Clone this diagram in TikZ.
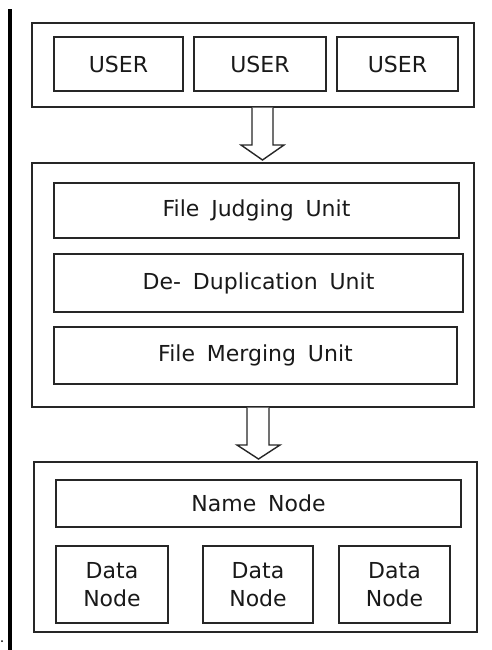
\documentclass[tikz,border=0pt]{standalone}
\usepackage{fontspec}
\setmainfont{DejaVu Sans}[WordSpace=1.7]
\begin{document}
\begin{tikzpicture}[x=1pt,y=-1pt,
  box/.style={draw=black!85, line width=1.4pt, fill=white, inner sep=0pt, text=black!90,
    font=\fontsize{22}{28}\selectfont, align=center},
  outer/.style={draw=black!85, line width=1.4pt, inner sep=0pt},
  blockarrow/.style={draw=black!85, line width=1.4pt, fill=white, line join=miter}]
\useasboundingbox (0,0) rectangle (492,650);
\fill[black] (8,9) rectangle (12,650);
\fill[black] (2,641) circle (1);
% top group
\node[outer, minimum width=442, minimum height=84] (top) at (253,65) {};
\node[box, minimum width=129, minimum height=54] (u1) at (118.5,64) {USER};
\node[box, minimum width=132, minimum height=54] (u2) at (260,64) {USER};
\node[box, minimum width=121, minimum height=54] (u3) at (397.5,64) {USER};
% middle group
\node[outer, minimum width=442, minimum height=244] (mid) at (253,285) {};
\node[box, minimum width=405, minimum height=55] (fju) at (256.5,210.5) {File Judging Unit};
\node[box, minimum width=409, minimum height=58] (ddu) at (258.5,283) {De- Duplication Unit};
\node[box, minimum width=403, minimum height=57] (fmu) at (255.5,355.5) {File Merging Unit};
% bottom group
\node[outer, minimum width=443, minimum height=170] (bot) at (255.5,547) {};
\node[box, minimum width=405, minimum height=47] (nn) at (258.5,503.5) {Name Node};
\node[box, minimum width=112, minimum height=77] (d1) at (112,584.5) {Data\\Node};
\node[box, minimum width=110, minimum height=77] (d2) at (258,584.5) {Data\\Node};
\node[box, minimum width=111, minimum height=77] (d3) at (394.5,584.5) {Data\\Node};
% block arrows between the groups
\draw[blockarrow] (top.south -| 252,0) -- (252,145) -- (241,145) -- (262.5,160) -- (284,145) -- (273,145) -- (top.south -| 273,0);
\draw[blockarrow] (mid.south -| 247,0) -- (247,445) -- (237,445) -- (258.5,459) -- (280,445) -- (269,445) -- (mid.south -| 269,0);
\end{tikzpicture}
\end{document}
